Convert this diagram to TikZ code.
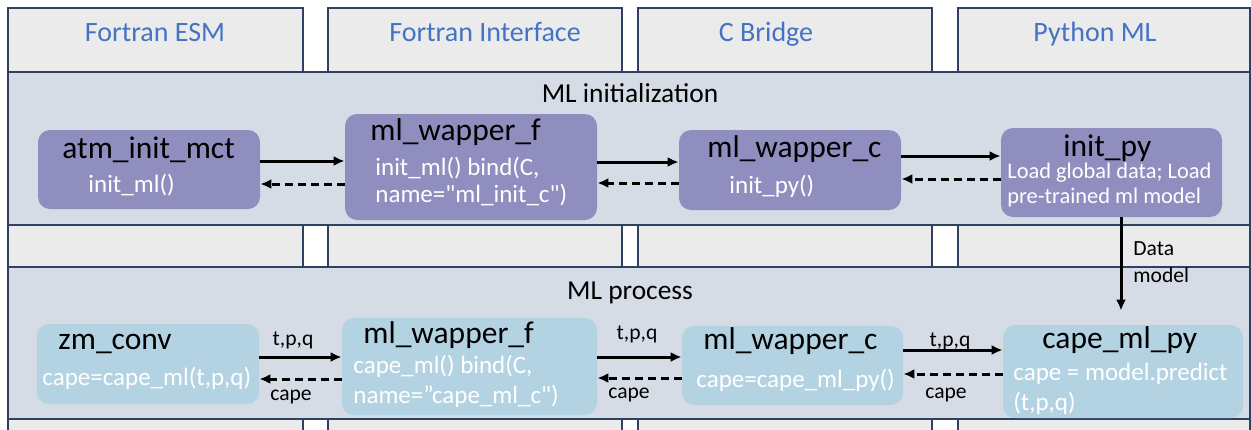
\documentclass[tikz,border=0pt]{standalone}
\usepackage{fontspec}
\setmainfont{Carlito}
\newfontfamily\calfont{Carlito}
\usetikzlibrary{arrows.meta, positioning}

\definecolor{lanefill}{RGB}{235,235,235}
\definecolor{edgeblue}{RGB}{47,64,98}
\definecolor{bandfill}{RGB}{214,220,229}
\definecolor{initfill}{RGB}{143,142,191}
\definecolor{procfill}{RGB}{180,211,226}
\definecolor{headblue}{RGB}{68,114,196}

\tikzset{
  lanebox/.style={draw=edgeblue, fill=lanefill, line width=0.75pt},
  bandbox/.style={draw=edgeblue, fill=bandfill, line width=0.75pt},
  initbox/.style={fill=initfill, rounded corners=6pt, inner sep=0pt},
  procbox/.style={fill=procfill, rounded corners=6pt, inner sep=0pt},
  hdtext/.style={text=headblue, font=\calfont\fontsize{14}{16}\selectfont, anchor=base, inner sep=0pt},
  bandtext/.style={font=\calfont\fontsize{13.7}{16}\selectfont, anchor=base, inner sep=0pt},
  nametext/.style={font=\calfont\fontsize{15.75}{18}\selectfont, anchor=base west, inner sep=0pt},
  codetext/.style={text=white, font=\calfont\fontsize{12.5}{15}\selectfont, anchor=base west, inner sep=0pt},
  flowlabel/.style={font=\calfont\fontsize{10.8}{13}\selectfont, anchor=base, inner sep=0pt},
  callarrow/.style={->, >={Latex[length=5.5pt, width=5pt]}, line width=1.5pt},
  retarrow/.style={->, >={Latex[length=5.5pt, width=5pt]}, line width=1.5pt, dash pattern=on 4pt off 2.5pt},
}

\begin{document}
\begin{tikzpicture}[x=0.5pt, y=-0.5pt]
  \clip (0,0) rectangle (1251,429);

  % lanes
  \draw[lanebox] (8,8) rectangle (303,440);
  \draw[lanebox] (328,8) rectangle (622,440);
  \draw[lanebox] (638,8) rectangle (932,440);
  \draw[lanebox] (958,8) rectangle (1250,440);
  \node[hdtext] (esm) at (155,41) {Fortran ESM};
  \node[hdtext] (fif) at (485,41) {Fortran Interface};
  \node[hdtext] (cbr) at (766,41) {C Bridge};
  \node[hdtext] (pyml) at (1095,41) {Python ML};

  % bands
  \draw[bandbox] (8,72) rectangle (1250,225);
  \draw[bandbox] (8,267) rectangle (1250,419);
  \node[bandtext] (initlbl) at (630,102) {ML initialization};
  \node[bandtext] (proclbl) at (630,299) {ML process};

  % initialization
  \node[initbox, minimum width=111pt, minimum height=39.5pt] (atm) at (149,169.5) {};
  \node[initbox, minimum width=126pt, minimum height=53pt] (mlfa) at (471,167) {};
  \node[initbox, minimum width=111pt, minimum height=40pt] (mlca) at (790,170) {};
  \node[initbox, minimum width=110.5pt, minimum height=44.5pt] (initpy) at (1111.5,172.5) {};

  \node[nametext] (atmN) at (62,158) {atm\_init\_mct};
  \node[codetext] (atmC) at (88,192) {init\_ml()};
  \node[nametext] (mlfaN) at (370,140) {ml\_wapper\_f};
  \node[codetext] (mlfaC) at (375,175) {init\_ml() bind(C,};
  \node[codetext] (mlfaD) at (375,202) {name="ml\_init\_c")};
  \node[nametext] (mlcaN) at (707,157) {ml\_wapper\_c};
  \node[codetext] (mlcaC) at (729,193) {init\_py()};
  \node[nametext] (initpyN) at (1063,156) {init\_py};
  \node[codetext, font=\calfont\fontsize{11.2}{13}\selectfont] (initpyC) at (1007,178) {Load global data; Load};
  \node[codetext, font=\calfont\fontsize{11.2}{13}\selectfont] (initpyD) at (1007,203) {pre-trained ml model};

  \draw[callarrow] (atm.east |- 0,161) -- (mlfa.west |- 0,161);
  \draw[retarrow] (mlfa.west |- 0,184) -- (atm.east |- 0,184);
  \draw[callarrow] (mlfa.east |- 0,162) -- (mlca.west |- 0,162);
  \draw[retarrow] (mlca.west |- 0,183) -- (mlfa.east |- 0,183);
  \draw[callarrow] (mlca.east |- 0,156) -- (initpy.west |- 0,156);
  \draw[retarrow] (initpy.west |- 0,179) -- (mlca.east |- 0,179);

  % process
  \node[procbox, minimum width=111pt, minimum height=40pt] (zm) at (148,364) {};
  \node[procbox, minimum width=127.5pt, minimum height=48.5pt] (mlfb) at (469.5,366.5) {};
  \node[procbox, minimum width=110.5pt, minimum height=39.5pt] (mlcb) at (792.5,365.5) {};
  \node[procbox, minimum width=120pt, minimum height=46.5pt] (capepy) at (1123,371.5) {};

  \node[nametext] (zmN) at (58,349) {zm\_conv};
  \node[codetext] (zmC) at (42,385) {cape=cape\_ml(t,p,q)};
  \node[nametext] (mlfbN) at (363,343) {ml\_wapper\_f};
  \node[codetext] (mlfbC) at (353,373) {cape\_ml() bind(C,};
  \node[codetext] (mlfbD) at (353,403) {name=”cape\_ml\_c")};
  \node[nametext] (mlcbN) at (703,349) {ml\_wapper\_c};
  \node[codetext] (mlcbC) at (696,387) {cape=cape\_ml\_py()};
  \node[nametext] (capepyN) at (1042,348) {cape\_ml\_py};
  \node[codetext] (capepyC) at (1013,380) {cape = model.predict};
  \node[codetext] (capepyD) at (1013,410) {(t,p,q)};

  \draw[callarrow] (zm.east |- 0,357) -- (mlfb.west |- 0,357);
  \draw[retarrow] (mlfb.west |- 0,379) -- (zm.east |- 0,379);
  \draw[callarrow] (mlfb.east |- 0,357) -- (mlcb.west |- 0,357);
  \draw[retarrow] (mlcb.west |- 0,378) -- (mlfb.east |- 0,378);
  \draw[callarrow] (mlcb.east |- 0,350) -- (capepy.west |- 0,350);
  \draw[retarrow] (capepy.west |- 0,374) -- (mlcb.east |- 0,374);

  \node[flowlabel] (tpq1) at (293,345) {t,p,q};
  \node[flowlabel] (cape1) at (291,400) {cape};
  \node[flowlabel] (tpq2) at (637,339) {t,p,q};
  \node[flowlabel] (cape2) at (629,398) {cape};
  \node[flowlabel] (tpq3) at (950,346) {t,p,q};
  \node[flowlabel] (cape3) at (946,398) {cape};

  % data and model handed down
  \draw[callarrow, shorten >=7pt] (initpy.south -| 1121,0) -- (capepy.north -| 1121,0);
  \node[flowlabel, anchor=base west] (datalbl) at (1133,255) {Data};
  \node[flowlabel, anchor=base west] (modellbl) at (1133,282) {model};
\end{tikzpicture}
\end{document}
